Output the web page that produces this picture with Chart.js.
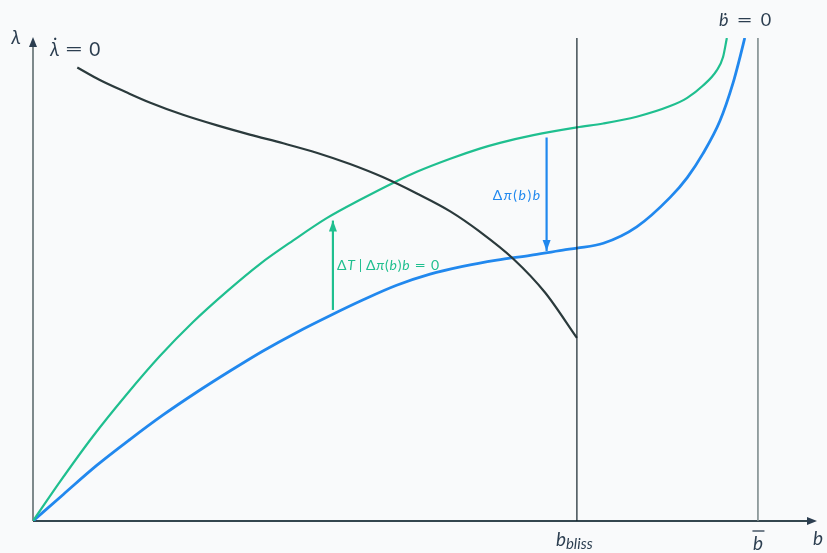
<!DOCTYPE html>
<html>
<head>
<meta charset="utf-8">
<script src="https://cdn.jsdelivr.net/npm/chart.js@4/dist/chart.umd.min.js"></script>
<style>
  html, body { margin: 0; padding: 0; background: #f9fafb; }
  #wrap { width: 827px; height: 553px; }
</style>
</head>
<body>
<div id="wrap"><canvas id="c" width="827" height="553"></canvas></div>
<script>
// Debt b on the horizontal axis, shadow price λ on the vertical axis (arbitrary units 0–10).

// λ̇ = 0 locus
const lambdaNullB = [0.57, 0.86, 1.21, 1.51, 1.93, 2.37, 2.79, 3.22, 3.66, 4.08, 4.50, 4.94, 5.37, 5.75, 6.18, 6.59, 7.00];
const lambdaNullL = [9.39, 9.13, 8.87, 8.66, 8.41, 8.19, 8.00, 7.82, 7.62, 7.39, 7.12, 6.78, 6.41, 5.99, 5.43, 4.73, 3.79];

// ḃ = 0 locus with the transfer ΔT
const bdotTransferB = [0, 0.35, 0.77, 1.21, 1.63, 2.06, 2.50, 2.92, 3.35, 3.78, 4.21, 4.66, 4.94, 5.37, 5.75, 6.01, 6.44, 7.00, 7.34, 7.77, 8.20, 8.42, 8.62, 8.80, 8.88, 8.93];
const bdotTransferL = [0, 0.82, 1.75, 2.63, 3.41, 4.12, 4.76, 5.32, 5.81, 6.27, 6.65, 7.02, 7.23, 7.50, 7.71, 7.83, 7.99, 8.15, 8.23, 8.37, 8.59, 8.76, 9.01, 9.33, 9.60, 10.0];

// ḃ = 0 locus with the default penalty Δπ(b)b
const bdotPenaltyB = [0, 0.39, 0.82, 1.25, 1.67, 2.11, 2.54, 2.96, 3.40, 3.82, 4.25, 4.68, 5.11, 5.53, 5.97, 6.40, 6.82, 7.00, 7.34, 7.77, 8.20, 8.42, 8.62, 8.84, 9.01, 9.10, 9.16];
const bdotPenaltyL = [0, 0.55, 1.15, 1.69, 2.19, 2.67, 3.11, 3.52, 3.91, 4.25, 4.58, 4.88, 5.11, 5.27, 5.40, 5.50, 5.61, 5.65, 5.75, 6.09, 6.70, 7.11, 7.60, 8.28, 9.07, 9.61, 10.0];

// Reference levels of debt
const bBliss = 7.0;
const bBar = 9.33;
const vLineL = [0, 10];

// Shift arrows: [start, end] in λ
const transferArrowB = 3.86;
const transferArrowL = [4.37, 6.22];
const penaltyArrowB = 6.61;
const penaltyArrowL = [7.94, 5.59];

const GREEN = '#1fbf8f';
const BLUE = '#2188ee';
const DARK = '#2b3a3c';
const INK = '#2c3e50';
const FONT = 'Lato, "DejaVu Sans", sans-serif';

const pts = (xs, ys) => xs.map((x, i) => ({ x, y: ys[i] }));
const vline = (b) => vLineL.map(y => ({ x: b, y }));

// Draws a run of text pieces; each piece may be italic (i), resized (s),
// shifted down (dy), padded on the left (pl) or stretched horizontally (sx).
function drawRich(ctx, x, y, segs, size, color, align, spacing) {
  ctx.save();
  ctx.fillStyle = color;
  ctx.textBaseline = 'middle';
  ctx.textAlign = 'left';
  if (spacing) ctx.letterSpacing = spacing + 'px';
  const fontOf = s => (s.i ? 'italic ' : '') + (s.s || size) + 'px ' + FONT;
  const adv = s => { ctx.font = fontOf(s); return (s.pl || 0) + ctx.measureText(s.t).width * (s.sx || 1); };
  const total = segs.reduce((a, s) => a + adv(s), 0);
  let cx = align === 'center' ? x - total / 2 : (align === 'right' ? x - total : x);
  segs.forEach(s => {
    const w = adv(s);
    ctx.save();
    ctx.translate(cx + (s.pl || 0), y + (s.dy || 0));
    ctx.scale(s.sx || 1, 1);
    ctx.fillText(s.t, 0, 0);
    ctx.restore();
    cx += w;
  });
  ctx.restore();
}

function head(ctx, x, y, angle, len, wid, color) {
  ctx.save();
  ctx.translate(x, y);
  ctx.rotate(angle);
  ctx.fillStyle = color;
  ctx.beginPath();
  ctx.moveTo(0, 0);
  ctx.lineTo(-len, -wid / 2);
  ctx.lineTo(-len, wid / 2);
  ctx.closePath();
  ctx.fill();
  ctx.restore();
}

const axesPlugin = {
  id: 'axesAndLabels',
  beforeDatasetsDraw(chart) {
    const { ctx, scales: { x, y } } = chart;
    const x0 = x.getPixelForValue(0), y0 = y.getPixelForValue(0);
    const yTop = y.getPixelForValue(10), xEnd = x.getPixelForValue(10) + 7;
    ctx.save();
    ctx.lineWidth = 1.6;
    ctx.strokeStyle = '#5f6d70';
    ctx.beginPath(); ctx.moveTo(x0, y0); ctx.lineTo(x0, yTop + 4); ctx.stroke();
    head(ctx, x0, yTop - 1, -Math.PI / 2, 10, 8, INK);
    ctx.strokeStyle = '#34474f';
    ctx.lineWidth = 1.8;
    ctx.beginPath(); ctx.moveTo(x0, y0); ctx.lineTo(xEnd - 4, y0); ctx.stroke();
    head(ctx, xEnd, y0, 0, 10, 8, INK);
    ctx.restore();
  },
  afterDatasetsDraw(chart) {
    const { ctx, scales: { x, y } } = chart;
    // arrowheads on the shift arrows
    chart.data.datasets.forEach(ds => {
      if (!ds.arrow) return;
      const d = ds.data;
      const p1 = { x: x.getPixelForValue(d[0].x), y: y.getPixelForValue(d[0].y) };
      const p2 = { x: x.getPixelForValue(d[1].x), y: y.getPixelForValue(d[1].y) };
      head(ctx, p2.x, p2.y, Math.atan2(p2.y - p1.y, p2.x - p1.x), 11, 8, ds.borderColor);
    });
    const x0 = x.getPixelForValue(0), y0 = y.getPixelForValue(0);
    // axis names
    drawRich(ctx, x0 - 17, y.getPixelForValue(10), [{ t: 'λ', i: true }], 19, INK, 'center');
    drawRich(ctx, x.getPixelForValue(10) + 8, y0 + 18, [{ t: 'b', i: true }], 19, INK, 'center');
    // locus names
    drawRich(ctx, 50, 50, [{ t: 'λ\u0307', i: true }, { t: '=', pl: 5, sx: 1.7 }, { t: '0', pl: 6 }], 19, INK, 'left');
    drawRich(ctx, 745, 20, [{ t: 'b\u0307', i: true }, { t: '=', pl: 8, sx: 1.55 }, { t: '0', pl: 8 }], 18, INK, 'center');
    // debt levels
    drawRich(ctx, x.getPixelForValue(bBliss) - 21, y0 + 19, [{ t: 'b', i: true }, { t: 'bliss', i: true, s: 15, dy: 4 }], 19, INK, 'left');
    const bbx = x.getPixelForValue(bBar);
    drawRich(ctx, bbx, y0 + 23, [{ t: 'b', i: true }], 19, INK, 'center');
    ctx.save();
    ctx.strokeStyle = INK; ctx.lineWidth = 1.3;
    ctx.beginPath(); ctx.moveTo(bbx - 5.5, y0 + 10); ctx.lineTo(bbx + 6.5, y0 + 10); ctx.stroke();
    ctx.restore();
    // arrow labels
    const ta = x.getPixelForValue(transferArrowB);
    drawRich(ctx, ta + 4, y.getPixelForValue((transferArrowL[0] + transferArrowL[1]) / 2),
      [{ t: 'Δ' }, { t: 'T', i: true }, { t: '|', pl: 3 }, { t: 'Δ', pl: 3 }, { t: 'π', i: true }, { t: '(' }, { t: 'b', i: true }, { t: ')' }, { t: 'b', i: true }, { t: '=', pl: 4, sx: 1.4 }, { t: '0', pl: 4 }],
      14, GREEN, 'left', 0.8);
    const pa = x.getPixelForValue(penaltyArrowB);
    drawRich(ctx, pa - 5, 195,
      [{ t: 'Δ' }, { t: 'π', i: true }, { t: '(' }, { t: 'b', i: true }, { t: ')' }, { t: 'b', i: true }],
      14, BLUE, 'right', 1.5);
  }
};

new Chart(document.getElementById('c'), {
  type: 'line',
  data: {
    datasets: [
      { data: vline(bBliss), borderColor: '#15232a', borderWidth: 1.2 },
      { data: vline(bBar), borderColor: '#7f8c8d', borderWidth: 1.6 },
      { data: pts(lambdaNullB, lambdaNullL), borderColor: DARK, borderWidth: 2.2, cubicInterpolationMode: 'monotone' },
      { data: pts(bdotTransferB, bdotTransferL), borderColor: GREEN, borderWidth: 2.2, cubicInterpolationMode: 'monotone' },
      { data: pts(bdotPenaltyB, bdotPenaltyL), borderColor: BLUE, borderWidth: 2.8, cubicInterpolationMode: 'monotone' },
      { data: pts([transferArrowB, transferArrowB], transferArrowL), borderColor: GREEN, borderWidth: 2.2, arrow: true },
      { data: pts([penaltyArrowB, penaltyArrowB], penaltyArrowL), borderColor: BLUE, borderWidth: 2.2, arrow: true }
    ]
  },
  options: {
    responsive: false,
    animation: false,
    layout: { padding: { left: 33, right: 17, top: 38, bottom: 32 } },
    elements: { point: { radius: 0 }, line: { fill: false } },
    scales: {
      x: { type: 'linear', min: 0, max: 10, display: false },
      y: { type: 'linear', min: 0, max: 10, display: false }
    },
    plugins: { legend: { display: false }, tooltip: { enabled: false } }
  },
  plugins: [axesPlugin]
});
</script>
</body>
</html>
